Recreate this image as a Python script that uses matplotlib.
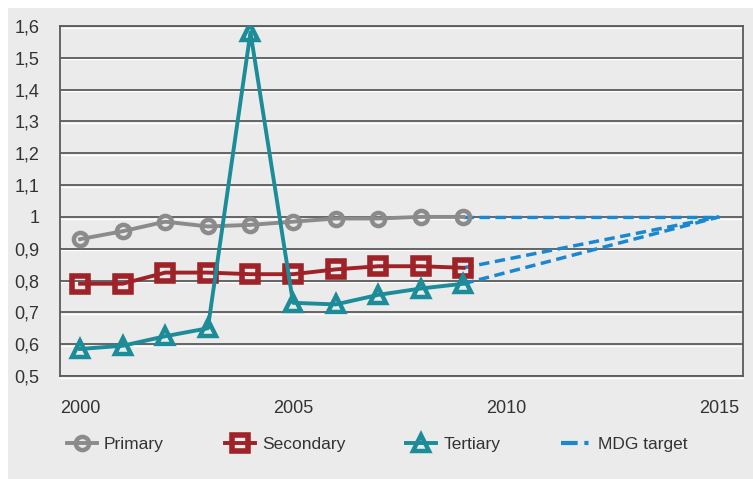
import matplotlib.pyplot as plt
import matplotlib.transforms as mtransforms
from matplotlib.lines import Line2D
from matplotlib.patches import Rectangle

plt.rcParams['font.family'] = ['Liberation Sans', 'DejaVu Sans']

# Data
years = [2000, 2001, 2002, 2003, 2004, 2005, 2006, 2007, 2008, 2009]
primary = [0.93, 0.955, 0.985, 0.97, 0.975, 0.985, 0.995, 0.995, 1.0, 1.0]
secondary = [0.79, 0.79, 0.825, 0.825, 0.82, 0.82, 0.835, 0.845, 0.845, 0.84]
tertiary = [0.585, 0.595, 0.625, 0.65, 1.58, 0.73, 0.725, 0.755, 0.775, 0.79]
target_year = 2015
target_value = 1.0
x_ticks = [2000, 2005, 2010, 2015]
y_ticks = [0.5, 0.6, 0.7, 0.8, 0.9, 1.0, 1.1, 1.2, 1.3, 1.4, 1.5, 1.6]

BG = '#ebebeb'
GREY = '#8b8b8b'
RED = '#9e2227'
TEAL = '#1b8c98'
BLUE = '#1a88d0'
GRID = '#5a5a5a'

fig = plt.figure(figsize=(7.53, 4.79), dpi=100)
fig.patches.append(Rectangle((8 / 753, 0), 1, (479 - 8) / 479, transform=fig.transFigure,
                             facecolor=BG, edgecolor='none', zorder=-10))
ax = fig.add_axes([60 / 753, 1 - 376 / 479, (743 - 60) / 753, (376 - 26) / 479])
ax.set_facecolor(BG)

ax.set_xlim(1999.53, 2015.56)
ax.set_ylim(0.5, 1.6)
ax.set_yticks(y_ticks)
ax.set_yticklabels([('%g' % v).replace('.', ',') for v in y_ticks])
ax.set_xticks(x_ticks)
ax.tick_params(length=0, labelsize=13, colors='#333333')
ax.tick_params(axis='x', pad=17)
ax.tick_params(axis='y', pad=15)

# grid lines with a light highlight just below each one
shift = mtransforms.ScaledTranslation(0, -1.6 / 100, fig.dpi_scale_trans)
for v in y_ticks:
    ax.plot([0, 1], [v, v], color='white', lw=1.0, zorder=1,
            transform=ax.get_yaxis_transform() + shift, clip_on=False)
    ax.axhline(v, color=GRID, lw=1.3, zorder=1)
for side in ['left', 'bottom', 'right', 'top']:
    ax.spines[side].set_color(GRID)
    ax.spines[side].set_linewidth(1.3)

# MDG target lines from the last observed value to 2015
for series in (primary, secondary, tertiary):
    ax.plot([years[-1], target_year], [series[-1], target_value], color=BLUE,
            lw=2.5, dashes=(3, 1.6), zorder=2)

ax.plot(years, primary, color=GREY, lw=2.8, marker='o', ms=9.5, mfc='none', mec=GREY,
        mew=3.2, zorder=3)
ax.plot(years, secondary, color=RED, lw=2.8, marker='s', ms=11.5, mfc='none', mec=RED,
        mew=4, zorder=4)
ax.plot(years, tertiary, color=TEAL, lw=2.8, marker='^', ms=12, mfc='none', mec=TEAL,
        mew=3.2, zorder=5)

handles = [
    Line2D([], [], color=GREY, lw=2.8, marker='o', ms=9.5, mfc='none', mec=GREY, mew=3.2),
    Line2D([], [], color=RED, lw=2.8, marker='s', ms=11.5, mfc='none', mec=RED, mew=4),
    Line2D([], [], color=TEAL, lw=2.8, marker='^', ms=12, mfc='none', mec=TEAL, mew=3.2),
    Line2D([], [], color=BLUE, lw=3, dashes=(4, 1.6, 1, 1.6)),
]
fig.legend(handles, ['Primary', 'Secondary', 'Tertiary', 'MDG target'],
           loc='center left', bbox_to_anchor=(51 / 753, 1 - 444 / 479), ncol=4,
           frameon=False, fontsize=12.5, handlelength=1.75, columnspacing=3.5,
           handletextpad=0.4, labelcolor='#333333')

fig.savefig('out.png', dpi=100)
